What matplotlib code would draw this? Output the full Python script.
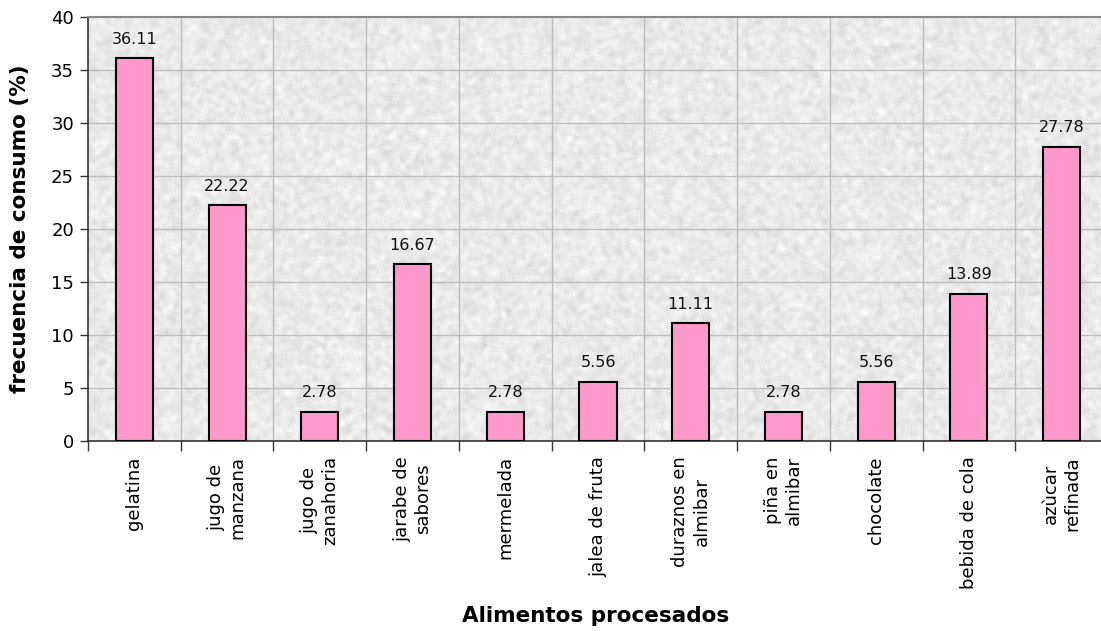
import numpy as np
import matplotlib
matplotlib.use("Agg")
import matplotlib.pyplot as plt
from matplotlib.ticker import FixedLocator, NullFormatter

categories = [
    "gelatina", "jugo de\nmanzana", "jugo de\nzanahoria", "jarabe de\nsabores",
    "mermelada", "jalea de fruta", "duraznos en\nalmibar", "piña en\nalmibar",
    "chocolate", "bebida de cola", "azùcar\nrefinada",
]
values = [36.11, 22.22, 2.78, 16.67, 2.78, 5.56, 11.11, 2.78, 5.56, 13.89, 27.78]
y_ticks = [0, 5, 10, 15, 20, 25, 30, 35, 40]

plt.rcParams["font.family"] = ["DejaVu Sans"]
plt.rcParams["font.stretch"] = "normal"

W, H = 1101, 631
fig = plt.figure(figsize=(W / 100, H / 100), dpi=100)
left, right, top, bottom = 88, 1108, 17, 441
ax = fig.add_axes([left / W, 1 - bottom / H, (right - left) / W, (bottom - top) / H])

n = len(categories)
x = np.arange(n)
ax.set_xlim(-0.5, n - 0.5)
ax.set_ylim(0, 40)

# soft granite-like backdrop for the plotting area
rng = np.random.default_rng(7)
tex = rng.normal(0, 1, (424, 1020))
k = np.ones(6) / 6
tex = np.apply_along_axis(lambda r: np.convolve(r, k, mode="same"), 1, tex)
tex = np.apply_along_axis(lambda c: np.convolve(c, k, mode="same"), 0, tex)
tex = 0.915 + 0.02 * tex / tex.std()
ax.imshow(tex, cmap="gray", vmin=0, vmax=1, extent=(-0.5, n - 0.5, 0, 40),
          aspect="auto", zorder=0, interpolation="bilinear")

# grid
for yv in y_ticks[1:-1]:
    ax.axhline(yv, color="#BDBDBD", lw=1, zorder=1)
for xb in np.arange(0.5, n - 0.5, 1):
    ax.axvline(xb, color="#BDBDBD", lw=1, zorder=1)

ax.bar(x, values, width=0.4, color="#FF99CC", edgecolor="black", linewidth=1.5, zorder=3)
for xi, v in zip(x, values):
    ax.text(xi, v + 1.1, f"{v:.2f}", ha="center", va="bottom", fontsize=11.5,
            color="#111111", zorder=4)

ax.set_yticks(y_ticks)
ax.set_yticklabels([str(t) for t in y_ticks], fontsize=13)
ax.tick_params(axis="y", direction="out", length=6, width=1, color="#333333", pad=4)

ax.xaxis.set_major_locator(FixedLocator(x))
ax.set_xticklabels(categories, rotation=90, fontsize=13, ha="center", va="top",
                   multialignment="center", linespacing=1.25)
ax.tick_params(axis="x", which="major", length=0, pad=11)
ax.xaxis.set_minor_locator(FixedLocator(np.arange(-0.5, n, 1)))
ax.xaxis.set_minor_formatter(NullFormatter())
ax.tick_params(axis="x", which="minor", direction="out", length=7, width=1, color="#333333")

for s in ["left", "bottom"]:
    ax.spines[s].set_color("#333333")
    ax.spines[s].set_linewidth(1.2)
ax.spines["top"].set_color("#888888")
ax.spines["top"].set_linewidth(1.5)
ax.spines["right"].set_visible(False)

fig.text(20 / W, 1 - 229 / H, "frecuencia de consumo (%)", rotation=90, ha="center",
         va="center", fontsize=15.5, fontweight="bold")
fig.text(596 / W, 1 - 616 / H, "Alimentos procesados", ha="center", va="center",
         fontsize=15.5, fontweight="bold")

fig.savefig("out.png", dpi=100)
